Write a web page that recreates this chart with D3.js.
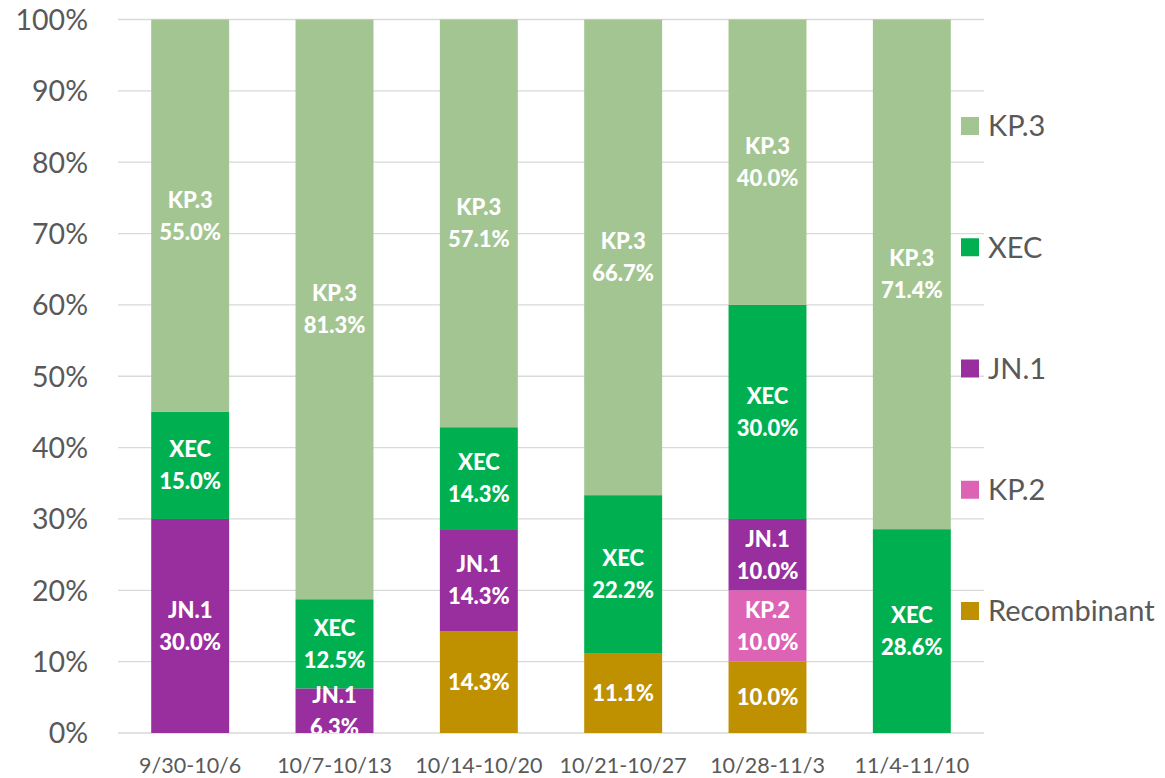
<!DOCTYPE html>
<html><head><meta charset="utf-8">
<script src="https://cdn.jsdelivr.net/npm/d3@7"></script>
<style>
html,body{margin:0;padding:0;background:#fff;}
svg{display:block;font-family:Lato,"Noto Sans",sans-serif;}
</style></head>
<body><svg id="chart" width="1165" height="778"></svg>
<script>
const categories = ["9/30-10/6","10/7-10/13","10/14-10/20","10/21-10/27","10/28-11/3","11/4-11/10"];
const seriesNames = ["Recombinant","KP.2","JN.1","XEC","KP.3"];
const recombinant = [0, 0, 14.2857, 11.111, 10.0, 0];
const kp2 = [0, 0, 0, 0, 10.0, 0];
const jn1 = [30.0, 6.25, 14.2857, 0, 10.0, 0];
const xec = [15.0, 12.5, 14.2857, 22.222, 30.0, 28.571];
const kp3 = [55.0, 81.25, 57.1429, 66.667, 40.0, 71.429];
const yTicks = [0,10,20,30,40,50,60,70,80,90,100];
const legendOrder = ["KP.3","XEC","JN.1","KP.2","Recombinant"];
const colors = {"KP.3":"#A3C591","XEC":"#00AF50","JN.1":"#992E9E","KP.2":"#DD63B5","Recombinant":"#BF9000"};
const showName = {"KP.3":true,"XEC":true,"JN.1":true,"KP.2":true,"Recombinant":false};

const valuesBy = {"Recombinant":recombinant,"KP.2":kp2,"JN.1":jn1,"XEC":xec,"KP.3":kp3};
const rows = categories.map((c,i)=>{const r={cat:c}; seriesNames.forEach(s=>r[s]=valuesBy[s][i]); return r;});

const svg = d3.select("#chart");
const m = {left:118, right:1165-984, top:19.5, bottom:778-733};
const W = 1165, H = 778;
const x = d3.scaleBand().domain(categories).range([m.left, W-m.right]).paddingInner(0.46).paddingOuter(0.23);
const y = d3.scaleLinear().domain([0,100]).range([H-m.bottom, m.top]);

// gridlines
svg.append("g").selectAll("line").data(yTicks).join("line")
  .attr("x1", m.left).attr("x2", W-m.right)
  .attr("y1", d=>y(d)).attr("y2", d=>y(d))
  .attr("stroke", "#D9D9D9").attr("stroke-width", 1.3);

// y axis labels
const yAxis = d3.axisLeft(y).tickValues(yTicks).tickFormat(d=>d+"%").tickSize(0).tickPadding(0);
const yg = svg.append("g").attr("transform", `translate(${m.left-30},0)`).call(yAxis);
yg.select(".domain").remove();
yg.selectAll("text").attr("fill","#595959").style("font-size","28.5px").style("font-family","Lato,sans-serif").attr("dy","0.35em");

// x axis labels
const xAxis = d3.axisBottom(x).tickSize(0).tickPadding(0);
const xg = svg.append("g").attr("transform", `translate(0,${H-m.bottom})`).call(xAxis);
xg.select(".domain").remove();
xg.selectAll("text").attr("fill","#595959").style("font-size","21.5px").style("font-family","Lato,sans-serif").attr("y", 40).attr("dy", 0);

const stack = d3.stack().keys(seriesNames)(rows);

svg.append("defs").append("clipPath").attr("id","plotclip").append("rect")
  .attr("x", m.left).attr("y", m.top-2).attr("width", W-m.left-m.right).attr("height", y(0)-m.top+2);

const gBars = svg.append("g");
stack.forEach(layer=>{
  gBars.append("g").attr("fill", colors[layer.key]).selectAll("rect")
    .data(layer.filter(d=>d[1]-d[0]>0)).join("rect")
    .attr("x", d=>x(d.data.cat)).attr("width", x.bandwidth())
    .attr("y", d=>y(d[1])).attr("height", d=>y(d[0])-y(d[1]));
});

// labels
const gLab = svg.append("g").attr("clip-path","url(#plotclip)");
stack.forEach(layer=>{
  layer.filter(d=>d[1]-d[0]>0).forEach(d=>{
    const cx = x(d.data.cat)+x.bandwidth()/2;
    const cy = y((d[0]+d[1])/2);
    const val = (d[1]-d[0]).toFixed(1)+"%";
    const t = gLab.append("text").attr("text-anchor","middle").attr("fill","#fff")
      .style("font-weight","900").style("font-size","22px").style("font-family","Lato,sans-serif");
    if (showName[layer.key]) {
      t.append("tspan").attr("x",cx).attr("y",cy-16).attr("dy","0.36em").text(layer.key);
      t.append("tspan").attr("x",cx).attr("y",cy+16).attr("dy","0.36em").text(val);
    } else {
      t.append("tspan").attr("x",cx).attr("y",cy).attr("dy","0.36em").text(val);
    }
  });
});

// legend
const legY = d3.scalePoint().domain(legendOrder).range([126, 611]);
const lg = svg.append("g").selectAll("g").data(legendOrder).join("g")
  .attr("transform", d=>`translate(961,${legY(d)})`);
lg.append("rect").attr("x",0).attr("y",-9).attr("width",18).attr("height",18).attr("fill", d=>colors[d]);
lg.append("text").attr("x",27).attr("y",0).attr("dy","0.36em").attr("fill","#595959")
  .style("font-size","29px").style("font-family","Lato,sans-serif").text(d=>d);
</script>
</body></html>
